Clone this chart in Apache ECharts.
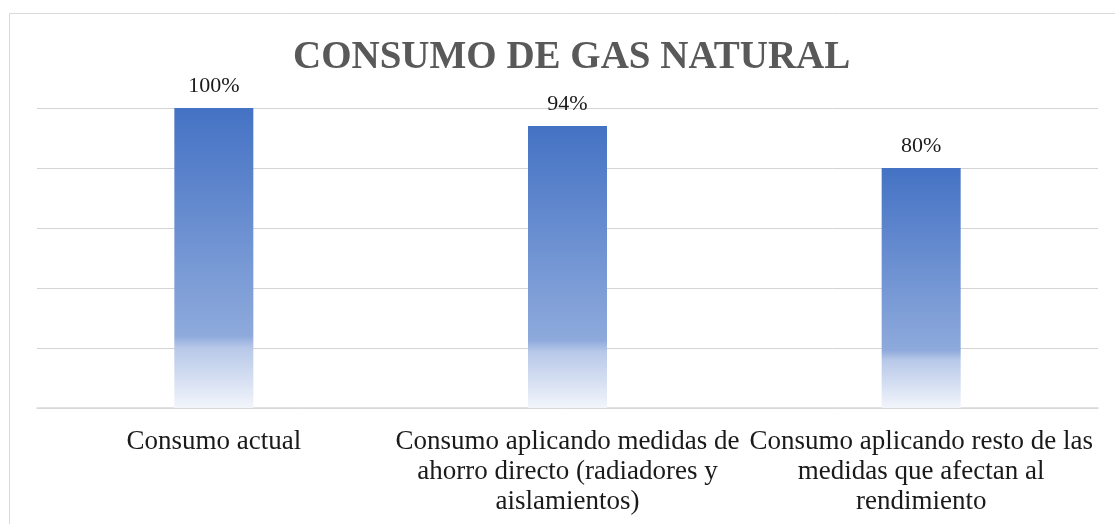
<!DOCTYPE html>
<html>
<head>
<meta charset="utf-8">
<script src="https://cdn.jsdelivr.net/npm/echarts@6/dist/echarts.min.js"></script>
<style>
  html, body { margin: 0; padding: 0; background: #fff; }
  #main { width: 1115px; height: 524px; }
</style>
</head>
<body>
<div id="main"></div>
<script>
// datos del grafico
var categorias = [
  'Consumo actual',
  'Consumo aplicando medidas de\nahorro directo (radiadores y\naislamientos)',
  'Consumo aplicando resto de las\nmedidas que afectan al\nrendimiento'
];
var consumo = [100, 94, 80];

var myChart = echarts.init(document.getElementById('main'));

var serif = '"Liberation Serif", "DejaVu Serif", serif';

var option = {
  backgroundColor: '#fff',
  animation: false,
  title: {
    text: 'CONSUMO DE GAS NATURAL',
    left: 288,
    top: 33,
    textStyle: {
      fontFamily: serif,
      fontWeight: 'bold',
      fontSize: 39,
      color: '#595959'
    }
  },
  graphic: [{
    type: 'rect',
    left: 7,
    top: 11,
    shape: { width: 1300, height: 700 },
    style: { fill: 'none', stroke: '#d9d9d9', lineWidth: 1 },
    silent: true,
    z: -1
  }],
  grid: { left: 37, right: 17, top: 108, bottom: 116 },
  xAxis: {
    type: 'category',
    data: categorias,
    axisTick: { show: false },
    axisLine: { lineStyle: { color: '#d9d9d9', width: 1.5 } },
    axisLabel: {
      interval: 0,
      margin: 19,
      fontFamily: serif,
      fontSize: 27,
      lineHeight: 30,
      color: '#1a1a1a',
      align: 'center'
    }
  },
  yAxis: {
    type: 'value',
    min: 0,
    max: 100,
    interval: 20,
    axisLabel: { show: false },
    axisLine: { show: false },
    axisTick: { show: false },
    splitLine: { lineStyle: { color: '#d4d4d4', width: 1 } }
  },
  series: [{
    type: 'bar',
    data: consumo,
    barWidth: 79,
    itemStyle: {
      color: new echarts.graphic.LinearGradient(0, 0, 0, 1, [
        { offset: 0, color: '#4472c4' },
        { offset: 0.76, color: '#8eaadc' },
        { offset: 0.8, color: '#b7c8e8' },
        { offset: 1, color: '#f2f5fb' }
      ])
    },
    label: {
      show: true,
      position: 'top',
      distance: 11,
      formatter: '{c}%',
      fontFamily: serif,
      fontSize: 22,
      color: '#1a1a1a'
    }
  }]
};

myChart.setOption(option);
</script>
</body>
</html>
